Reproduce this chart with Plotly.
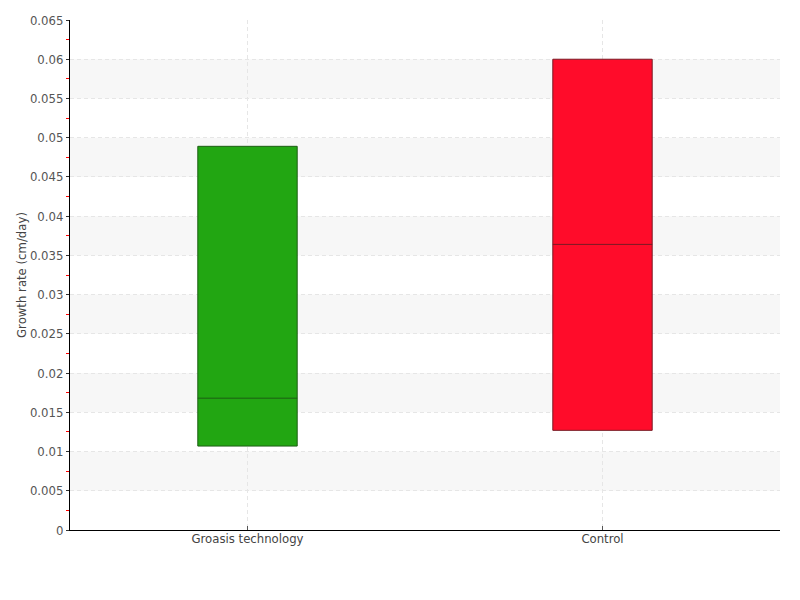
import plotly.graph_objects as go

categories = ["Groasis technology", "Control"]
q1_vals = [0.0107, 0.0127]
median_vals = [0.0168, 0.0364]
q3_vals = [0.0489, 0.0600]
fill_colors = ["#22a612", "#ff0c2a"]
line_colors = ["#1d5e14", "#7a1a24"]
band_starts = [0.005, 0.015, 0.025, 0.035, 0.045, 0.055]
band_width = 0.005

fig = go.Figure()
for i, cat in enumerate(categories):
    fig.add_trace(go.Box(
        x=[cat], q1=[q1_vals[i]], median=[median_vals[i]], q3=[q3_vals[i]],
        lowerfence=[q1_vals[i]], upperfence=[q3_vals[i]],
        fillcolor=fill_colors[i], line=dict(color=line_colors[i], width=1),
        width=0.28, whiskerwidth=0, showlegend=False, hoverinfo="y",
    ))

for b in band_starts:
    fig.add_shape(type="rect", xref="paper", yref="y", x0=0, x1=1, y0=b, y1=b + band_width,
                  fillcolor="#f7f7f7", line_width=0, layer="below")

fam = "DejaVu Sans Condensed, DejaVu Sans, Roboto"
fig.update_layout(
    width=800, height=600,
    margin=dict(l=62, r=28, t=12, b=78, autoexpand=False),
    plot_bgcolor="white", paper_bgcolor="white",
    font=dict(family=fam, size=12, color="#555"),
    boxmode="overlay",
)
fig.update_xaxes(
    type="category", range=[-0.5, 1.5], automargin=False,
    showline=True, linecolor="black", linewidth=1,
    showgrid=True, gridcolor="#e6e6e6", griddash="4px,3px",
    ticks="inside", ticklen=4, tickcolor="#555",
    ticklabelstandoff=-4,
    tickfont=dict(family=fam, size=13, color="#444"),
)
fig.update_yaxes(
    range=[0, 0.065], dtick=0.005, tick0=0, automargin=False,
    showline=True, linecolor="black", linewidth=1,
    showgrid=True, gridcolor="#e6e6e6", griddash="4px,3px",
    ticks="outside", ticklen=3, tickcolor="#333",
    minor=dict(dtick=0.0025, tick0=0, ticks="outside", ticklen=3, tickcolor="red", showgrid=False),
    zeroline=False,
    title=dict(text="Growth rate (cm/day)", font=dict(family=fam, size=13, color="#444"), standoff=0),
    tickfont=dict(family=fam, size=13, color="#555"),
)
fig.write_html("out.html")
